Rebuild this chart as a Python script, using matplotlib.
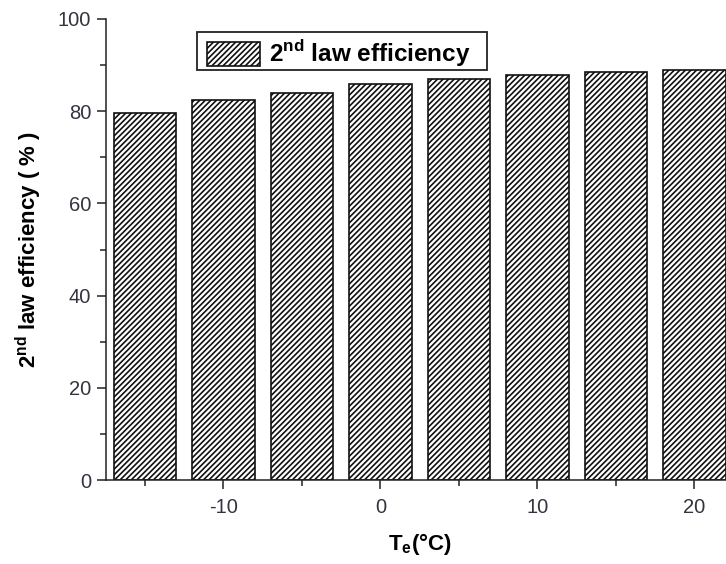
import matplotlib
matplotlib.use("Agg")
import matplotlib.pyplot as plt
from matplotlib.patches import Rectangle
from matplotlib.ticker import MultipleLocator

# evaporator temperature (deg C) and 2nd law efficiency (%)
te = [-15, -10, -5, 0, 5, 10, 15, 20]
eff2 = [79.5, 82.3, 84.0, 85.9, 87.0, 87.8, 88.5, 88.8]
xticks = [-10, 0, 10, 20]
yticks = [0, 20, 40, 60, 80, 100]

plt.rcParams['font.family'] = ['Liberation Sans', 'DejaVu Sans']
plt.rcParams['mathtext.fontset'] = 'custom'
plt.rcParams['mathtext.rm'] = 'Liberation Sans'
plt.rcParams['mathtext.bf'] = 'Liberation Sans:bold'
plt.rcParams['hatch.linewidth'] = 1.2
plt.rcParams['axes.unicode_minus'] = False

tick_col = '#34343f'
W, H = 726, 564

fig = plt.figure(figsize=(7.26, 5.64), dpi=100)
ax = fig.add_axes([0.1456, 0.1484, 0.865, 0.8183])

ax.bar(te, eff2, width=4, color='white', edgecolor='#111111', linewidth=1.2,
       hatch='//////', label=r'2$^{\mathbf{nd}}$ law efficiency')

ax.set_xlim(-17.5, 22.5)
ax.set_ylim(0, 100)
ax.set_xticks(xticks)
ax.set_yticks(yticks)
ax.xaxis.set_minor_locator(MultipleLocator(5))
ax.yaxis.set_minor_locator(MultipleLocator(10))

for s in ['top', 'right']:
    ax.spines[s].set_visible(False)
for s in ['left', 'bottom']:
    ax.spines[s].set_linewidth(1.1)
    ax.spines[s].set_color('#222222')

ax.tick_params(which='major', direction='out', length=6.5, width=1.1,
               labelsize=14.5, labelcolor=tick_col, color='#222222')
ax.tick_params(which='minor', direction='out', length=4, width=1.1, color='#222222')
ax.tick_params(axis='y', which='major', pad=4)
ax.tick_params(axis='x', which='major', pad=6)

ax.set_ylabel(r'2$^{\mathbf{nd}}$ law efficiency ( % )', fontsize=16, fontweight='bold', labelpad=10)
ax.set_xlabel(r'T$_{\mathbf{e}}$(°C)', fontsize=16, fontweight='bold', labelpad=10)

# legend without its own frame, box drawn separately behind it
box = Rectangle((197 / W, 1 - 70 / H), 290 / W, 38 / H, transform=fig.transFigure,
                facecolor='white', edgecolor='#222222', linewidth=1.3,
                clip_on=False, zorder=4)
ax.add_patch(box)
leg = ax.legend(loc='upper left', bbox_to_anchor=(207 / W, 1 - 38 / H),
                bbox_transform=fig.transFigure, borderaxespad=0, frameon=False,
                handlelength=2.2, handleheight=1.1, handletextpad=0.35, borderpad=0,
                prop={'size': 17.5, 'weight': 'bold'})
leg.set_zorder(5)

fig.savefig('out.png', dpi=100)
